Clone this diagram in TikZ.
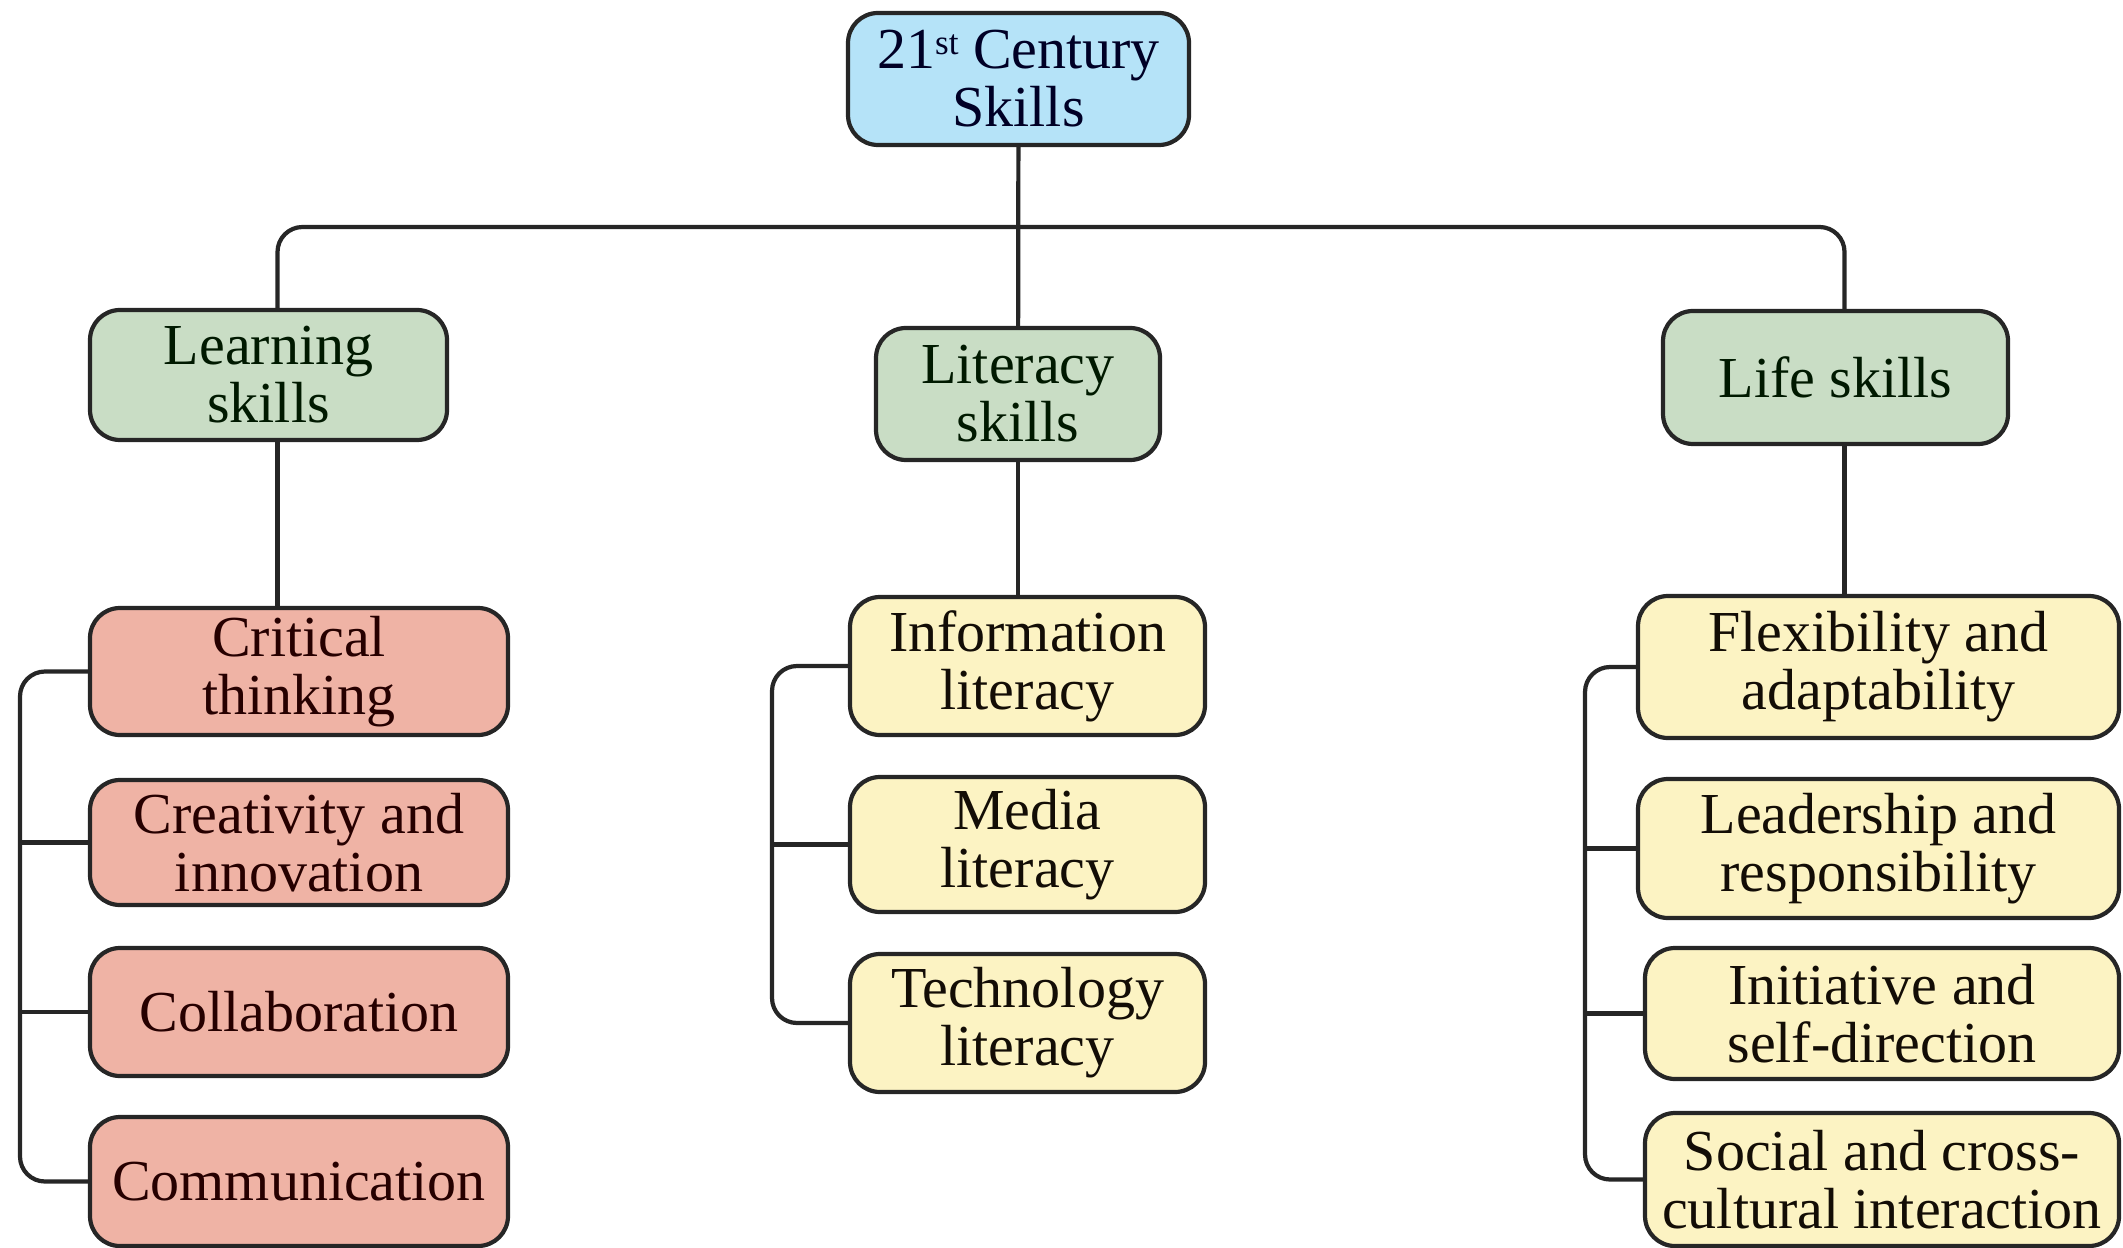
\documentclass[tikz,border=0pt]{standalone}
\usepackage{fontspec}
\setmainfont{Liberation Serif}
\definecolor{topblue}{HTML}{B5E3F8}
\definecolor{groupgreen}{HTML}{C9DDC5}
\definecolor{learnred}{HTML}{EFB3A5}
\definecolor{itemyellow}{HTML}{FCF3C3}
\tikzset{
  box/.style={draw=black!85, line width=1.2pt, rounded corners=0.3cm, align=center,
    inner sep=0pt, font=\fontsize{16.5}{16.5}\selectfont},
  headbox/.style={box, fill=topblue, text=black!85!blue},
  groupbox/.style={box, fill=groupgreen, text=black!90!green},
  learnbox/.style={box, fill=learnred, text=black!85!red, minimum width=4.18cm},
  litbox/.style={box, fill=itemyellow, text=black!90!brown, minimum width=3.55cm},
  lifebox/.style={box, fill=itemyellow, text=black!90!brown},
  link/.style={draw=black!85, line width=1.2pt, rounded corners=0.25cm}
}
\begin{document}
\begin{tikzpicture}
\useasboundingbox (0,0) rectangle (21.23,-12.48);

\node[headbox, minimum width=3.41cm, minimum height=1.32cm] (top) at (10.185,-0.79) {21{\fontsize{10}{10}\selectfont\raisebox{0.9ex}{st}} Century\\Skills};

\node[groupbox, minimum width=3.57cm, minimum height=1.30cm] (learn) at (2.685,-3.75) {Learning\\skills};
\node[groupbox, minimum width=2.84cm, minimum height=1.32cm] (lit) at (10.18,-3.94) {Literacy\\skills};
\node[groupbox, minimum width=3.45cm, minimum height=1.33cm] (life) at (18.355,-3.775) {Life skills};

\node[learnbox, minimum height=1.27cm] (crit) at (2.99,-6.715) {Critical\\thinking};
\node[learnbox, minimum height=1.25cm] (cre) at (2.99,-8.425) {Creativity and\\innovation};
\node[learnbox, minimum height=1.28cm] (col) at (2.99,-10.12) {Collaboration};
\node[learnbox, minimum height=1.29cm] (com) at (2.99,-11.815) {Communication};

\node[litbox, minimum height=1.38cm] (info) at (10.275,-6.66) {Information\\literacy};
\node[litbox, minimum height=1.35cm] (med) at (10.275,-8.445) {Media\\literacy};
\node[litbox, minimum height=1.38cm] (tech) at (10.275,-10.23) {Technology\\literacy};

\node[lifebox, minimum width=4.81cm, minimum height=1.42cm] (flex) at (18.785,-6.67) {Flexibility and\\adaptability};
\node[lifebox, minimum width=4.81cm, minimum height=1.39cm] (lead) at (18.785,-8.485) {Leadership and\\responsibility};
\node[lifebox, minimum width=4.74cm, minimum height=1.31cm] (init) at (18.82,-10.135) {Initiative and\\self-direction};
\node[lifebox, minimum width=4.74cm, minimum height=1.33cm] (soc) at (18.82,-11.795) {Social and cross-\\cultural interaction};

\coordinate (bus) at (10.18,-2.27);
\coordinate (lbar) at (0.2,-9);
\coordinate (mbar) at (7.72,-8.4);
\coordinate (rbar) at (15.85,-9);
\coordinate (ldrop) at ([xshift=0.09cm]learn.north);
\coordinate (rdrop) at ([xshift=0.09cm]life.north);

\draw[link] (top) -- (lit);
\draw[link] (ldrop) |- (bus) -| (rdrop);
\draw[link] ([xshift=0.09cm]learn.south) -- ([xshift=0.09cm]learn.south |- crit.north);
\draw[link] (lit.south) -- (lit.south |- info.north);
\draw[link] ([xshift=0.09cm]life.south) -- ([xshift=0.09cm]life.south |- flex.north);

\draw[link] (crit.west) -| (lbar) |- (com.west);
\foreach \n in {cre,col}
  \draw[link] (\n.west) -- (\n.west -| lbar);
\draw[link] (info.west) -| (mbar) |- (tech.west);
\draw[link] (med.west) -- (med.west -| mbar);
\draw[link] (flex.west) -| (rbar) |- (soc.west);
\foreach \n in {lead,init}
  \draw[link] (\n.west) -- (\n.west -| rbar);
\end{tikzpicture}
\end{document}
